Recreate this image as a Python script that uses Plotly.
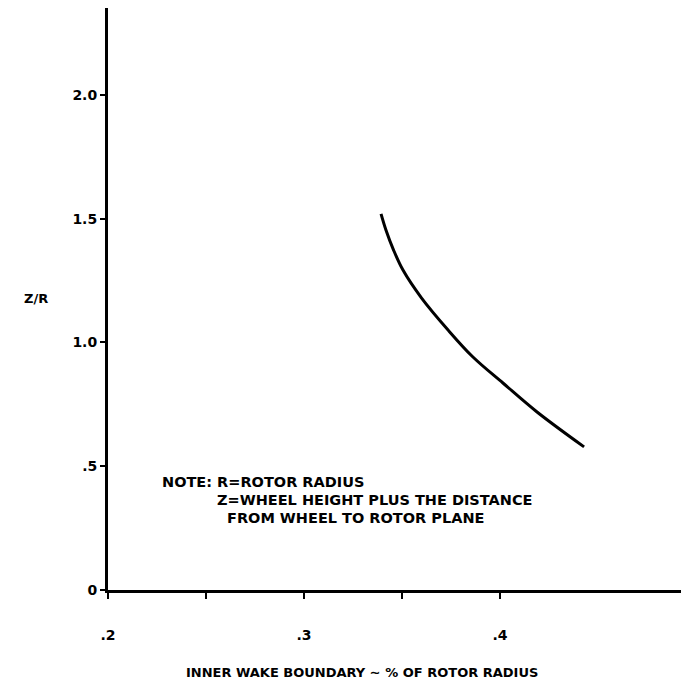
import plotly.graph_objects as go

# Data
wake_boundary = [0.3393, 0.3418, 0.3457, 0.3505, 0.3600, 0.3735, 0.3862, 0.4015, 0.4189, 0.4429]
z_over_r = [1.519, 1.454, 1.373, 1.292, 1.179, 1.050, 0.941, 0.836, 0.719, 0.578]

x_tickvals = [0.2, 0.25, 0.3, 0.35, 0.4]
x_ticktext = [".2", "", ".3", "", ".4"]
y_tickvals = [0, 0.5, 1.0, 1.5, 2.0]
y_ticktext = ["0", ".5", "1.0", "1.5", "2.0"]

note_lines = [
    "NOTE: R=ROTOR RADIUS",
    "Z=WHEEL HEIGHT PLUS THE DISTANCE",
    "FROM WHEEL TO ROTOR PLANE",
]

FONT = "DejaVu Sans"
# page body has an 8px margin; figure sits at (8, 8) on the page
OFF = 8
W, H = 681, 680
L, R, T, B = 100, 1, 0, 98
PLOT_L, PLOT_R, PLOT_T, PLOT_B = L + OFF, W - R + OFF, T + OFF, H - B + OFF

fig = go.Figure()
fig.add_trace(go.Scatter(
    x=wake_boundary, y=z_over_r, mode="lines",
    line=dict(color="black", width=3, shape="spline", smoothing=1.0),
    showlegend=False, hoverinfo="skip",
))

fig.update_layout(
    width=W, height=H,
    margin=dict(l=L, r=R, t=T, b=B, pad=0, autoexpand=False),
    paper_bgcolor="white", plot_bgcolor="white",
    font=dict(family=FONT, color="black", size=13),
    xaxis=dict(
        range=[0.2, 0.2 + (PLOT_R - PLOT_L) / 1960.0],
        tickvals=x_tickvals, ticktext=x_ticktext,
        showgrid=False, zeroline=False, automargin=False,
        showline=True, linecolor="black", linewidth=3,
        ticks="outside", ticklen=6, tickwidth=2, tickcolor="black",
        ticklabelstandoff=24,
        tickfont=dict(family=FONT, size=14, color="black", weight="bold"),
    ),
    yaxis=dict(
        range=[0, (PLOT_B - PLOT_T) / 247.6],
        tickvals=y_tickvals, ticktext=y_ticktext,
        showgrid=False, zeroline=False, automargin=False,
        showline=True, linecolor="black", linewidth=3,
        ticks="outside", ticklen=5, tickwidth=2, tickcolor="black",
        ticklabelstandoff=0,
        tickfont=dict(family=FONT, size=14, color="black", weight="bold"),
    ),
)

def px_to_paper(px, py):
    return (px - PLOT_L) / (PLOT_R - PLOT_L), (PLOT_B - py) / (PLOT_B - PLOT_T)

# Axis titles
ax, ay = px_to_paper(362, 672)
fig.add_annotation(x=ax, y=ay, xref="paper", yref="paper", showarrow=False,
                   text="INNER WAKE BOUNDARY ∼ % OF ROTOR RADIUS",
                   xanchor="center", yanchor="middle",
                   font=dict(family=FONT, size=13, color="black", weight="bold"))
ax, ay = px_to_paper(36, 298)
fig.add_annotation(x=ax, y=ay, xref="paper", yref="paper", showarrow=False,
                   text="Z/R", xanchor="center", yanchor="middle",
                   font=dict(family=FONT, size=13, color="black", weight="bold"))

# Note text
note_pos = [(160, 482), (215, 500), (225, 518)]
for txt, (px, py) in zip(note_lines, note_pos):
    ax, ay = px_to_paper(px, py)
    fig.add_annotation(x=ax, y=ay, xref="paper", yref="paper", showarrow=False,
                       text=txt, xanchor="left", yanchor="middle",
                       font=dict(family=FONT, size=14.5, color="black", weight="bold"))

fig.write_html("out.html")
